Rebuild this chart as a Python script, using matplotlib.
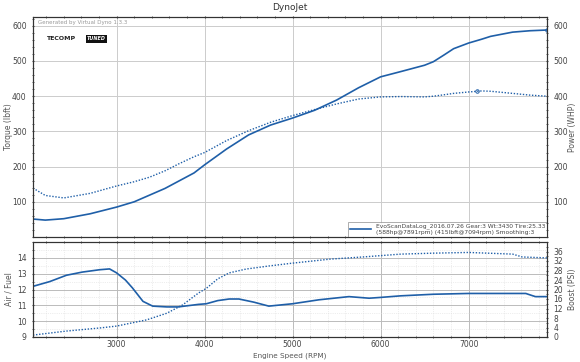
import matplotlib
matplotlib.use("Agg")
import matplotlib.pyplot as plt
from matplotlib.ticker import MultipleLocator

# power / torque (top panel)
rpm_top = [2050, 2190, 2400, 2700, 3000, 3200, 3375, 3550, 3700, 3880, 4000, 4250,
           4500, 4750, 5000, 5250, 5500, 5750, 6000, 6230, 6500, 6600, 6720, 6830,
           7000, 7150, 7250, 7500, 7700, 7891]
power = [51, 48, 52, 66, 85, 100, 119, 138, 158, 182, 205, 250,
         290, 318, 338, 360, 389, 424, 455, 470, 488, 498, 517, 535,
         551, 562, 570, 582, 586, 588]
torque = [139, 118, 111, 124, 145, 157, 170, 188, 207, 228, 240, 274,
          302, 326, 345, 362, 378, 392, 398, 399, 398, 400, 404, 408,
          412, 415, 414, 408, 403, 400]

# air/fuel and boost (bottom panel)
rpm_afr = [2050, 2240, 2430, 2610, 2810, 2920, 3000, 3100, 3180, 3300, 3410, 3570,
           3700, 3930, 4020, 4150, 4280, 4390, 4560, 4730, 5000, 5300, 5640, 5870,
           6000, 6230, 6600, 7000, 7650, 7720, 7760, 7891]
afr = [12.2, 12.5, 12.9, 13.1, 13.25, 13.3, 13.05, 12.6, 12.1, 11.25, 10.95, 10.9,
       10.9, 11.06, 11.1, 11.3, 11.4, 11.4, 11.2, 10.95, 11.1, 11.35, 11.55, 11.45,
       11.5, 11.6, 11.7, 11.75, 11.75, 11.62, 11.55, 11.55]
rpm_boost = [2050, 2430, 2810, 3000, 3340, 3570, 3750, 3930, 4020, 4150, 4280, 4470,
             4730, 5000, 5430, 5800, 6230, 6600, 7000, 7500, 7610, 7891]
boost = [0.8, 2.5, 3.8, 4.6, 7.2, 10, 13.5, 18.5, 20.5, 24.5, 27, 28.6,
         29.9, 31.1, 32.8, 33.7, 34.9, 35.3, 35.6, 34.9, 33.7, 33.3]

legend_text = ("EvoScanDataLog_2016.07.26 Gear:3 Wt:3430 Tire:25.33\n"
               "(588hp@7891rpm) (415lbft@7094rpm) Smoothing:3")

blue = "#1f5fa8"
txt = "#555555"

fig = plt.figure(figsize=(5.8, 3.62), dpi=100)
ax1 = fig.add_axes([33/580, 1-237/362, 514/580, 220/362])
ax2 = fig.add_axes([33/580, 1-337/362, 514/580, 95/362])

def style(ax):
    ax.set_xlim(2050, 7891)
    ax.xaxis.set_major_locator(MultipleLocator(1000))
    ax.xaxis.set_minor_locator(MultipleLocator(200))
    ax.tick_params(axis="both", which="both", labelsize=5.5, colors="#444444",
                   length=2, direction="inout")
    ax.tick_params(which="minor", length=1.5)
    for s in ax.spines.values():
        s.set_color("#333333")
        s.set_linewidth(0.8)

def style_right(ax):
    ax.tick_params(axis="y", which="both", labelsize=5.5, colors="#444444",
                   length=2, direction="inout")
    ax.tick_params(which="minor", length=1.5)
    for s in ax.spines.values():
        s.set_color("#333333")
        s.set_linewidth(0.8)

# top panel
style(ax1)
ax1.set_ylim(0, 625)
ax1.yaxis.set_minor_locator(MultipleLocator(20))
ax1.set_yticks([100, 200, 300, 400, 500, 600])
ax1.grid(True, which="major", color="#cccccc", lw=0.7)
ax1.tick_params(labelbottom=False, top=True, which="both")
ax1.plot(rpm_top, power, color=blue, lw=1.2, label=legend_text)
ax1.plot(rpm_top, torque, color=blue, lw=1.0, ls=(0, (1, 1.2)))
ax1.plot([7094], [415], marker="o", ms=2.5, mfc="none", mec=blue, mew=0.7)
ax1.plot([7891], [588], marker="o", ms=2.5, mfc="none", mec=blue, mew=0.7)
ax1r = ax1.twinx()
ax1r.set_ylim(0, 625)
ax1r.set_yticks([100, 200, 300, 400, 500, 600])
ax1r.yaxis.set_minor_locator(MultipleLocator(20))
style_right(ax1r)

fig.text(0.5, 1-7/362, "DynoJet", fontsize=6.5, color="#333333",
         ha="center", va="center")
fig.text(9/580, 1-127/362, "Torque (lbft)", fontsize=5.5, color=txt,
         rotation=90, ha="center", va="center")
fig.text(573/580, 1-127/362, "Power (WHP)", fontsize=5.5, color=txt,
         rotation=90, ha="center", va="center")
fig.text(9/580, 1-289/362, "Air / Fuel", fontsize=5.5, color=txt,
         rotation=90, ha="center", va="center")
fig.text(573/580, 1-289/362, "Boost (PSI)", fontsize=5.5, color=txt,
         rotation=90, ha="center", va="center")
fig.text(290/580, 1-356/362, "Engine Speed (RPM)", fontsize=5.2, color=txt,
         ha="center", va="center")

ax1.text(0.01, 0.985, "Generated by Virtual Dyno 1.3.3", transform=ax1.transAxes,
         fontsize=4, color="#999999", va="top", ha="left")
ax1.text(0.025, 0.90, "TECOMP", transform=ax1.transAxes, fontsize=4.5,
         color="#222222", va="center", ha="left", fontweight="bold")
ax1.text(0.105, 0.90, "TUNED", transform=ax1.transAxes, fontsize=3.5,
         color="white", va="center", ha="left", style="italic", fontweight="bold",
         bbox=dict(boxstyle="square,pad=0.25", fc="#111111", ec="none"))
leg = ax1.legend(loc="lower right", fontsize=4.3, frameon=True, fancybox=False,
                 borderpad=0.3, handlelength=3.5, labelspacing=0.2,
                 borderaxespad=0.0)
leg.get_frame().set_edgecolor("#888888")
leg.get_frame().set_linewidth(0.6)
for t in leg.get_texts():
    t.set_color("#444444")

# bottom panel
style(ax2)
ax2.set_ylim(9, 15)
ax2.set_yticks([9, 10, 11, 12, 13, 14])
ax2.yaxis.set_minor_locator(MultipleLocator(0.5))
ax2.grid(True, which="major", color="#bbbbbb", lw=0.7)
ax2.grid(True, which="minor", color="#dddddd", lw=0.5, ls=":")
ax2.tick_params(top=True, which="both")
ax2.tick_params(axis="x", pad=1.5)
ax2.plot(rpm_afr, afr, color=blue, lw=1.2)
ax2.set_xticks([3000, 4000, 5000, 6000, 7000])
ax2r = ax2.twinx()
ax2r.set_ylim(0, 40)
ax2r.set_yticks(range(0, 37, 4))
ax2r.yaxis.set_minor_locator(MultipleLocator(2))
style_right(ax2r)
ax2r.plot(rpm_boost, boost, color=blue, lw=1.0, ls=(0, (1, 1.2)))

fig.savefig("out.png", dpi=100)
